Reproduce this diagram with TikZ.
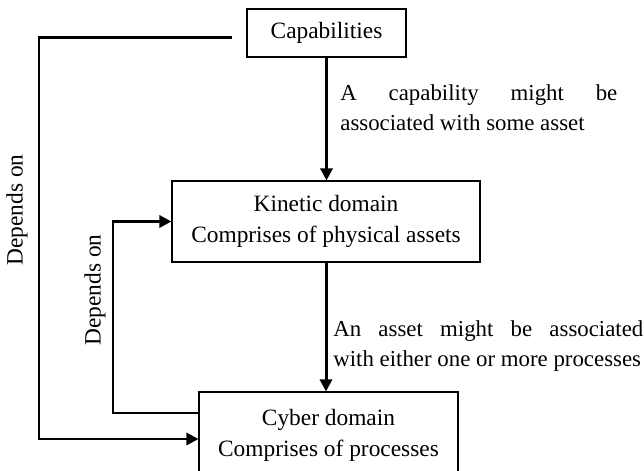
\documentclass[tikz,border=0pt]{standalone}
\usepackage{fontspec}
\setmainfont{Liberation Serif}
\usetikzlibrary{arrows.meta,positioning,calc}
\tikzset{
  areabox/.style={rectangle, draw=black, line width=0.6pt, fill=white, align=center, inner sep=2pt, font=\fontsize{13.3}{18}\selectfont},
  note/.style={anchor=west, inner sep=0pt, align=justify, font=\fontsize{13}{17}\selectfont},
  sidelabel/.style={rotate=90, inner sep=0pt, font=\fontsize{13.3}{16}\selectfont},
  link/.style={-{Triangle[length=2.4mm, width=2.4mm]}, line width=1.7pt}
}

\begin{document}
\begin{tikzpicture}
  \useasboundingbox (0,0) rectangle (12.88,9.42);
  \node[areabox, minimum width=3.18cm, minimum height=0.96cm] (cap) at (6.53,8.76) {Capabilities};
  \node[areabox, minimum width=6.16cm, minimum height=1.62cm] (kin) at (6.52,4.99) {Kinetic domain\\Comprises of physical assets};
  \node[areabox, minimum width=5.18cm, minimum height=1.74cm] (cyb) at (6.57,0.71) {Cyber domain\\Comprises of processes};
  % corners of the two feedback lines
  \coordinate (outer) at (0.78,0);
  \coordinate (inner) at (2.26,0);
  \coordinate (capout) at ($(cap.west)+(-0.28,-0.1)$);
  \coordinate (cybin) at ($(cyb.west)+(0,-0.07)$);
  \coordinate (cybout) at ($(cyb.west)+(0,0.45)$);
  \draw[link] (cap) -- (cap |- kin.north);
  \draw[link] (kin.south) -- (kin.south |- cyb.north);
  \draw[link] (capout) -- (capout -| outer) |- (cybin);
  \draw[link] (cybout) -- (cybout -| inner) |- (kin.west);
  \node[note, text width=5.54cm] (capnote) at (6.8,7.26) {A capability might be\linebreak associated with some asset};
  \node[note, text width=6.2cm] (kinnote) at (6.66,2.5) {An asset might be associated\linebreak with either one or more processes};
  \node[sidelabel] (outerlabel) at (0.34,5.22) {Depends on};
  \node[sidelabel] (innerlabel) at (1.9,3.62) {Depends on};
\end{tikzpicture}
\end{document}
